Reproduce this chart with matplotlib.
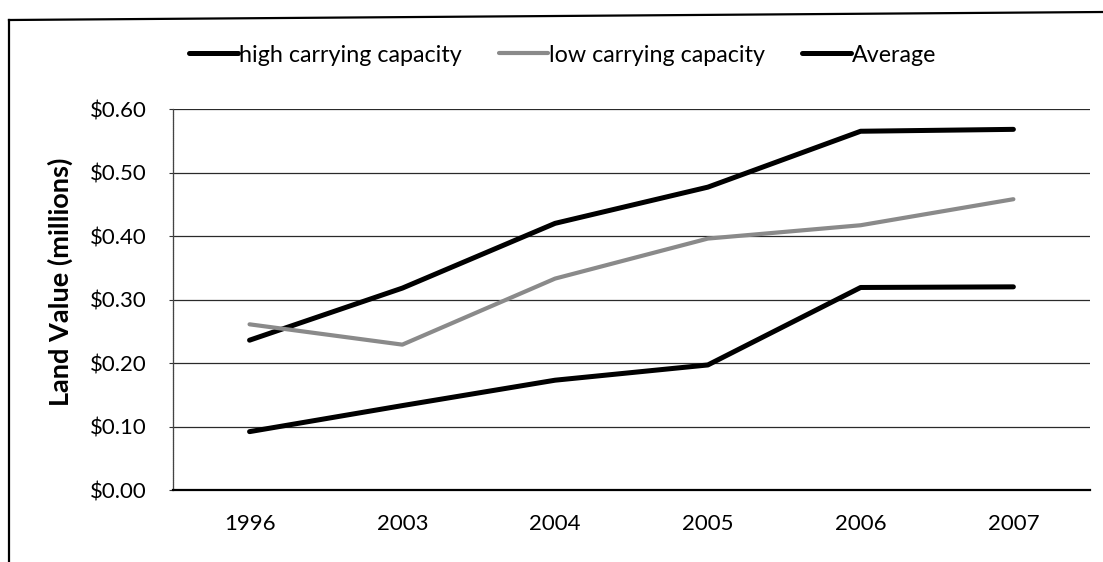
import numpy as np
import matplotlib
matplotlib.use("Agg")
import matplotlib.pyplot as plt
from matplotlib.lines import Line2D
from matplotlib.ticker import FuncFormatter

plt.rcParams['font.family'] = ['Lato', 'DejaVu Sans']

years = ['1996', '2003', '2004', '2005', '2006', '2007']
high = [0.236, 0.318, 0.420, 0.477, 0.565, 0.568]      # high carrying capacity
low = [0.261, 0.229, 0.333, 0.396, 0.417, 0.458]       # low carrying capacity
average = [0.092, 0.133, 0.173, 0.197, 0.319, 0.320]

fig = plt.figure(figsize=(11.03, 5.62), dpi=100)
ax = fig.add_axes([0.157, 0.128, 0.831, 0.678])

x = np.arange(len(years))
ax.plot(x, high, color='black', lw=3.6, solid_capstyle='round', label='high carrying capacity')
ax.plot(x, low, color='#8a8a8a', lw=3.0, solid_capstyle='round', label='low carrying capacity')
ax.plot(x, average, color='black', lw=3.6, solid_capstyle='round', label='Average')

ax.set_xlim(-0.5, len(years) - 0.5)
ax.set_ylim(0, 0.6)
ax.set_yticks(np.arange(0, 0.61, 0.1))
ax.yaxis.set_major_formatter(FuncFormatter(lambda v, p: '$%.2f' % v))
ax.set_xticks(x)
ax.set_xticklabels(years)
ax.tick_params(axis='y', labelsize=16, length=3, width=0.8, pad=16, color='#333333')
ax.tick_params(axis='x', labelsize=16, length=0, pad=17)

# horizontal gridlines, the top one doubles as the plot frame
ax.grid(axis='y', color='#2a2a2a', lw=0.9)
ax.set_axisbelow(True)
for s in ['top', 'right']:
    ax.spines[s].set_visible(False)
ax.spines['left'].set_color('#444444')
ax.spines['left'].set_linestyle((0, (1, 0.6)))
ax.spines['left'].set_linewidth(0.9)
ax.spines['bottom'].set_linewidth(1.6)

fig.text(60 / 1103, 1 - 282 / 562, 'Land Value (millions)', rotation=90,
         ha='center', va='center', fontsize=19.5, fontweight='bold')

fig.legend(loc='center', bbox_to_anchor=(0.510, 0.902), ncol=3, frameon=False,
           fontsize=16.75, handlelength=2.1, handletextpad=0.05, columnspacing=1.6)

# outer frame around the chart
fig.add_artist(Line2D([9 / 1103, 9 / 1103], [0, 1 - 20 / 562], color='black', lw=1.6,
                      transform=fig.transFigure))
fig.add_artist(Line2D([9 / 1103, 1], [1 - 20 / 562, 1 - 12 / 562], color='black', lw=1.6,
                      transform=fig.transFigure))

fig.savefig('out.png', dpi=100)
